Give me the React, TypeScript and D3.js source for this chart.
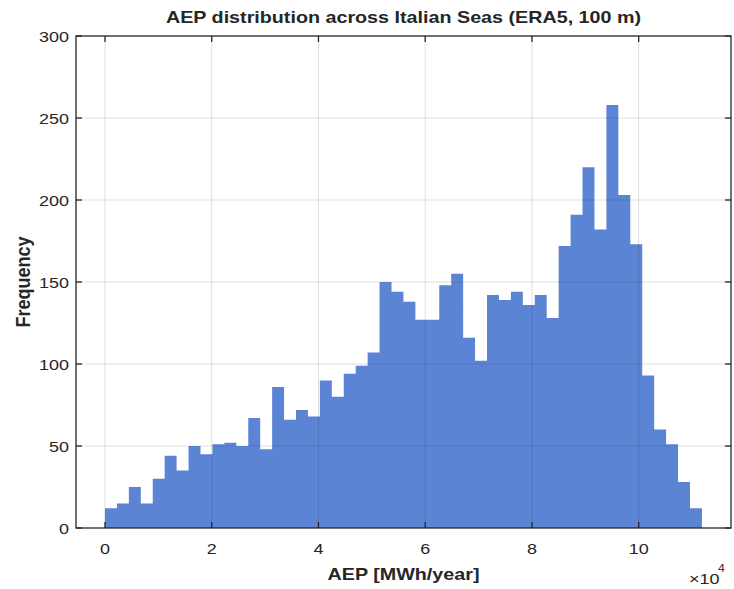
import React from "react";
import * as d3 from "d3";

const counts = [
  12, 15, 25, 15, 30, 44, 35, 50, 45, 51,
  52, 50, 67, 48, 86, 66, 72, 68, 90, 80,
  94, 99, 107, 150, 144, 138, 127, 127, 148, 155,
  116, 102, 142, 139, 144, 136, 142, 128, 172, 191,
  220, 182, 258, 203, 173, 93, 60, 51, 28, 12,
];
const binStart = 0;
const binWidth = 0.2237; // x 10^4 MWh/year
const xTicks = [0, 2, 4, 6, 8, 10];
const yTicks = [0, 50, 100, 150, 200, 250, 300];
const xLimits = [-0.543, 11.73];
const yLimits = [0, 300];

const W = 734;
const H = 589;
const M = { left: 76, right: 731, top: 36, bottom: 528 };
const SX = 1.16;
const FONT = "'Liberation Sans', Arial, Helvetica, sans-serif";
const INK = "#262626";

export default function App() {
  const x = d3.scaleLinear().domain(xLimits).range([M.left, M.right]);
  const y = d3.scaleLinear().domain(yLimits).range([M.bottom, M.top]);

  const pts = counts.map((c, i) => ({ x: binStart + i * binWidth, y: c }));
  pts.push({ x: binStart + counts.length * binWidth, y: counts[counts.length - 1] });
  const area = d3
    .area<{ x: number; y: number }>()
    .x((d) => x(d.x))
    .y0(y(0))
    .y1((d) => y(d.y))
    .curve(d3.curveStepAfter);

  const tickLen = 6;
  const txt = (
    key: string,
    px: number,
    py: number,
    s: string,
    size: number,
    anchor: string,
    weight = "normal",
    rotate = false
  ) => (
    <text
      key={key}
      transform={
        rotate
          ? `translate(${px},${py}) rotate(-90) scale(1,${SX})`
          : `translate(${px},${py}) scale(${SX},1)`
      }
      textAnchor={anchor}
      fontSize={size}
      fontWeight={weight}
      fontFamily={FONT}
      fill={INK}
    >
      {s}
    </text>
  );

  return (
    <svg
      width={W}
      height={H}
      style={{ position: "absolute", left: 0, top: 0, background: "#fff" }}
    >
      <rect x={0} y={0} width={W} height={H} fill="#fff" />
      <path d={area(pts) || ""} fill="#5b84d5" stroke="none" />
      {/* grid */}
      <g stroke="rgba(38,38,38,0.15)" strokeWidth={1}>
        {xTicks.map((t) => (
          <line key={"gx" + t} x1={x(t)} x2={x(t)} y1={M.top} y2={M.bottom} />
        ))}
        {yTicks.slice(1, -1).map((t) => (
          <line key={"gy" + t} x1={M.left} x2={M.right} y1={y(t)} y2={y(t)} />
        ))}
      </g>
      {/* box and ticks */}
      <g stroke={INK} strokeWidth={1.3} fill="none">
        <rect x={M.left} y={M.top} width={M.right - M.left} height={M.bottom - M.top} />
        {xTicks.map((t) => (
          <g key={"tx" + t}>
            <line x1={x(t)} x2={x(t)} y1={M.bottom} y2={M.bottom - tickLen} />
            <line x1={x(t)} x2={x(t)} y1={M.top} y2={M.top + tickLen} />
          </g>
        ))}
        {yTicks.map((t) => (
          <g key={"ty" + t}>
            <line x1={M.left} x2={M.left + tickLen} y1={y(t)} y2={y(t)} />
            <line x1={M.right} x2={M.right - tickLen} y1={y(t)} y2={y(t)} />
          </g>
        ))}
      </g>
      {xTicks.map((t) => txt("xl" + t, x(t), 554, String(t), 15.5, "middle"))}
      {yTicks.map((t) => txt("yl" + t, 69, y(t) + 5.5, String(t), 15.5, "end"))}
      {txt("title", (M.left + M.right) / 2, 23, "AEP distribution across Italian Seas (ERA5, 100 m)", 17, "middle", "bold")}
      {txt("xlab", (M.left + M.right) / 2, 580, "AEP [MWh/year]", 17, "middle", "bold")}
      {txt("ylab", 30, (M.top + M.bottom) / 2, "Frequency", 18, "middle", "bold", true)}
      {txt("exp", 689, 584, "\u00d710", 15.5, "start")}
      {txt("exp4", 718, 572, "4", 10.5, "start")}
    </svg>
  );
}
